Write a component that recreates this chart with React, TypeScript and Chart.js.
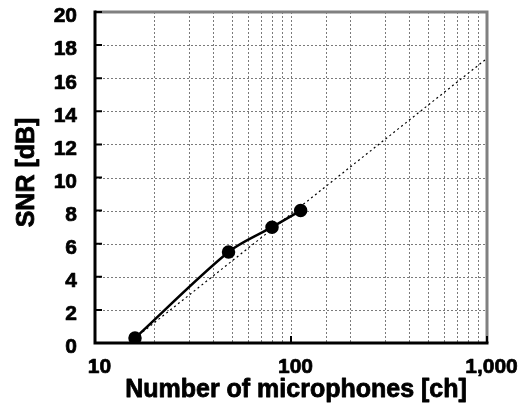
import React, { useEffect, useRef } from "react";
import { Chart, registerables } from "chart.js";

Chart.register(...registerables);

const micCounts = [16, 48, 80, 112];
const snrValues = [0.3, 5.5, 7.0, 8.0];
const trendCounts = [16, 1000];
const trendSnr = [0.3, 17.2];
const xLabeled = [10, 100, 1000];
const yTicks = [0, 2, 4, 6, 8, 10, 12, 14, 16, 18, 20];
const xTitle = "Number of microphones [ch]";
const yTitle = "SNR [dB]";

const FONT = "'Liberation Sans', Arial, sans-serif";

function heavyText(ctx: CanvasRenderingContext2D, s: string, x: number, y: number) {
  ctx.fillText(s, x, y);
  ctx.strokeText(s, x, y);
}

const framePlugin = {
  id: "frame",
  beforeDatasetsDraw(chart: any) {
    const { ctx, chartArea } = chart;
    const { left, right, top, bottom } = chartArea;
    const ys = chart.scales.y;
    const xs = chart.scales.x;
    ctx.save();
    ctx.strokeStyle = "#7a7a7a";
    ctx.lineWidth = 1;
    ctx.setLineDash([2, 2]);
    ctx.beginPath();
    xs.ticks.forEach((t: any) => {
      const x = Math.round(xs.getPixelForValue(t.value)) + 0.5;
      if (x <= left + 2 || x >= right - 2) return;
      ctx.moveTo(x, top);
      ctx.lineTo(x, bottom);
    });
    ys.ticks.forEach((t: any) => {
      const y = Math.round(ys.getPixelForValue(t.value)) + 0.5;
      if (y <= top + 2 || y >= bottom - 2) return;
      ctx.moveTo(left, y);
      ctx.lineTo(right, y);
    });
    ctx.stroke();
    ctx.restore();
  },
  afterDatasetsDraw(chart: any) {
    const { ctx, chartArea } = chart;
    const { left, right, top, bottom } = chartArea;
    const ys = chart.scales.y;
    const xs = chart.scales.x;
    ctx.save();
    ctx.setLineDash([]);
    ctx.strokeStyle = "#808080";
    ctx.lineWidth = 3;
    ctx.beginPath();
    ctx.moveTo(left, top);
    ctx.lineTo(right, top);
    ctx.lineTo(right, bottom);
    ctx.stroke();
    ctx.strokeStyle = "#000";
    ctx.lineWidth = 3;
    ctx.beginPath();
    ctx.moveTo(left, top - 1.5);
    ctx.lineTo(left, bottom);
    ctx.lineTo(right + 1.5, bottom);
    ctx.stroke();
    ctx.lineWidth = 2;
    ctx.beginPath();
    yTicks.forEach((v) => {
      const y = ys.getPixelForValue(v);
      ctx.moveTo(left, y);
      ctx.lineTo(left + 7, y);
    });
    xLabeled.forEach((v) => {
      const x = xs.getPixelForValue(v);
      ctx.moveTo(x, bottom);
      ctx.lineTo(x, bottom - 7);
    });
    ctx.stroke();

    // tick labels
    ctx.fillStyle = "#000";
    ctx.strokeStyle = "#000";
    ctx.lineWidth = 0.7;
    ctx.lineJoin = "round";
    ctx.font = "bold 21px " + FONT;
    ctx.textAlign = "right";
    ctx.textBaseline = "alphabetic";
    yTicks.forEach((v) => {
      const y = ys.getPixelForValue(v);
      heavyText(ctx, String(v), left - 18, y + 10.3);
    });
    ctx.textAlign = "center";
    xLabeled.forEach((v) => {
      const x = xs.getPixelForValue(v);
      heavyText(ctx, v.toLocaleString("en-US"), x + 4.5, bottom + 30);
    });

    // axis titles
    ctx.font = "bold 25px " + FONT;
    ctx.lineWidth = 0.8;
    ctx.textAlign = "center";
    heavyText(ctx, xTitle, (left + right) / 2 + 5, bottom + 54);
    ctx.save();
    ctx.translate(33.5, (top + bottom) / 2 - 5);
    ctx.rotate(-Math.PI / 2);
    heavyText(ctx, yTitle, 0, 0);
    ctx.restore();
    ctx.restore();
  },
};

export default function App() {
  const ref = useRef<HTMLCanvasElement | null>(null);
  useEffect(() => {
    if (!ref.current) return;
    const chart = new Chart(ref.current, {
      type: "line",
      data: {
        datasets: [
          {
            label: "trend",
            data: trendCounts.map((x, i) => ({ x, y: trendSnr[i] })),
            borderColor: "#000",
            borderWidth: 1.2,
            borderDash: [2, 3],
            pointRadius: 0,
            tension: 0,
            fill: false,
          },
          {
            label: "measured",
            data: micCounts.map((x, i) => ({ x, y: snrValues[i] })),
            borderColor: "#000",
            backgroundColor: "#000",
            borderWidth: 2.5,
            pointRadius: 5.5,
            pointBackgroundColor: "#000",
            pointBorderColor: "#000",
            tension: 0.3,
            fill: false,
          },
        ],
      },
      options: {
        responsive: false,
        animation: false,
        layout: { padding: { top: 12, right: 43, left: 0, bottom: 0 } },
        plugins: {
          legend: { display: false },
          tooltip: { enabled: false },
        },
        scales: {
          x: {
            type: "logarithmic",
            min: 10,
            max: 1000,
            afterFit: (s: any) => {
              s.height = 64;
              s.paddingLeft = 0;
              s.paddingRight = 0;
            },
            grid: { display: false, drawTicks: false },
            border: { display: false },
            ticks: { display: false, autoSkip: false, maxRotation: 0 },
            title: { display: false, text: xTitle },
          },
          y: {
            min: 0,
            max: 20,
            afterFit: (s: any) => {
              s.width = 95;
              s.paddingTop = 0;
              s.paddingBottom = 0;
            },
            grid: { display: false, drawTicks: false },
            border: { display: false },
            ticks: { display: false, stepSize: 2 },
            title: { display: false, text: yTitle },
          },
        },
      },
      plugins: [framePlugin],
    });
    return () => chart.destroy();
  }, []);
  return (
    <div style={{ position: "fixed", left: 0, top: 0, width: 530, height: 407, background: "#fff" }}>
      <canvas ref={ref} width={530} height={407} style={{ width: 530, height: 407 }} />
    </div>
  );
}
